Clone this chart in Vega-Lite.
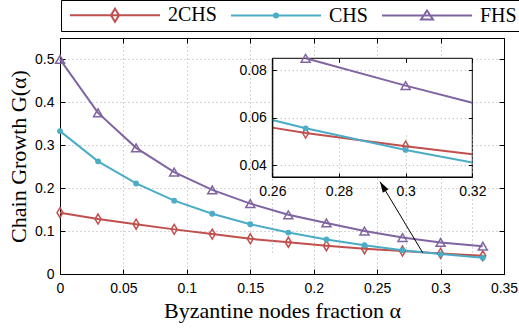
{
  "$schema": "https://vega.github.io/schema/vega-lite/v6.json",
  "width": 444,
  "height": 236,
  "autosize": {"type": "none"},
  "padding": {"left": 60, "top": 38, "right": 15, "bottom": 57},
  "background": "white",
  "config": {
    "view": {"stroke": null},
    "axis": {
      "domainColor": "#000", "tickColor": "#000", "labelColor": "#000",
      "labelFont": "Liberation Sans", "labelFontSize": 14,
      "titleFont": "Liberation Serif", "titleFontSize": 22, "titleFontWeight": "normal", "titleColor": "#000",
      "gridColor": "#aaaaaa", "gridDash": [1, 3], "gridWidth": 1,
      "labelFlush": false, "labelOverlap": false
    }
  },
  "datasets": {
    "main": [
      {"s": "2CHS", "a": 0, "g": 0.143}, {"s": "2CHS", "a": 0.03, "g": 0.128}, {"s": "2CHS", "a": 0.06, "g": 0.116},
      {"s": "2CHS", "a": 0.09, "g": 0.104}, {"s": "2CHS", "a": 0.12, "g": 0.093}, {"s": "2CHS", "a": 0.15, "g": 0.082},
      {"s": "2CHS", "a": 0.18, "g": 0.074}, {"s": "2CHS", "a": 0.21, "g": 0.066}, {"s": "2CHS", "a": 0.24, "g": 0.059},
      {"s": "2CHS", "a": 0.27, "g": 0.0535}, {"s": "2CHS", "a": 0.3, "g": 0.048}, {"s": "2CHS", "a": 0.3333, "g": 0.0423},
      {"s": "CHS", "a": 0, "g": 0.333}, {"s": "CHS", "a": 0.03, "g": 0.2625}, {"s": "CHS", "a": 0.06, "g": 0.211},
      {"s": "CHS", "a": 0.09, "g": 0.171}, {"s": "CHS", "a": 0.12, "g": 0.1405}, {"s": "CHS", "a": 0.15, "g": 0.116},
      {"s": "CHS", "a": 0.18, "g": 0.0965}, {"s": "CHS", "a": 0.21, "g": 0.0805}, {"s": "CHS", "a": 0.24, "g": 0.067},
      {"s": "CHS", "a": 0.27, "g": 0.0555}, {"s": "CHS", "a": 0.3, "g": 0.0464}, {"s": "CHS", "a": 0.3333, "g": 0.0378},
      {"s": "FHS", "a": 0, "g": 0.5}, {"s": "FHS", "a": 0.03, "g": 0.3755}, {"s": "FHS", "a": 0.06, "g": 0.294},
      {"s": "FHS", "a": 0.09, "g": 0.2375}, {"s": "FHS", "a": 0.12, "g": 0.196}, {"s": "FHS", "a": 0.15, "g": 0.164},
      {"s": "FHS", "a": 0.18, "g": 0.138}, {"s": "FHS", "a": 0.21, "g": 0.119}, {"s": "FHS", "a": 0.24, "g": 0.1},
      {"s": "FHS", "a": 0.27, "g": 0.085}, {"s": "FHS", "a": 0.3, "g": 0.0735}, {"s": "FHS", "a": 0.3333, "g": 0.0648}
    ],
    "inset": [
      {"s": "2CHS", "a": 0.26, "g": 0.0558}, {"s": "2CHS", "a": 0.27, "g": 0.0535}, {"s": "2CHS", "a": 0.3, "g": 0.048}, {"s": "2CHS", "a": 0.32, "g": 0.0446},
      {"s": "CHS", "a": 0.26, "g": 0.059}, {"s": "CHS", "a": 0.27, "g": 0.0555}, {"s": "CHS", "a": 0.3, "g": 0.0464}, {"s": "CHS", "a": 0.32, "g": 0.0411},
      {"s": "FHS", "a": 0.27, "g": 0.085}, {"s": "FHS", "a": 0.3, "g": 0.0735}, {"s": "FHS", "a": 0.32, "g": 0.0663}
    ]
  },
  "layer": [
    {
      "data": {"name": "main"},
      "encoding": {
        "x": {"field": "a", "type": "quantitative",
          "scale": {"domain": [0, 0.35], "nice": false, "zero": false},
          "axis": {"orient": "bottom", "values": [0, 0.05, 0.1, 0.15, 0.2, 0.25, 0.3, 0.35], "format": "~g",
            "title": "Byzantine nodes fraction α", "grid": true, "tickSize": -5, "labelPadding": 12, "titlePadding": 5}},
        "y": {"field": "g", "type": "quantitative",
          "scale": {"domain": [0, 0.55], "nice": false, "zero": false},
          "axis": {"orient": "left", "values": [0, 0.1, 0.2, 0.3, 0.4, 0.5], "format": "~g",
            "title": "Chain Growth G(α)", "grid": true, "tickSize": -5, "labelPadding": 11, "titlePadding": 4}}
      },
      "layer": [
        {"transform": [{"filter": "datum.s == '2CHS'"}], "mark": {"type": "line", "strokeWidth": 2, "color": "#C0504D"}},
        {"transform": [{"filter": "datum.s == 'CHS'"}], "mark": {"type": "line", "strokeWidth": 2, "color": "#4BACC6"}},
        {"transform": [{"filter": "datum.s == 'FHS'"}], "mark": {"type": "line", "strokeWidth": 2, "color": "#8064A2"}},
        {"transform": [{"filter": "datum.s == '2CHS'"}],
         "mark": {"type": "point", "shape": "M0,-1L0.6,0L0,1L-0.6,0Z", "size": 100, "filled": false, "color": "#C0504D", "strokeWidth": 1.5, "opacity": 1}},
        {"transform": [{"filter": "datum.s == 'CHS'"}],
         "mark": {"type": "point", "shape": "circle", "size": 34, "filled": true, "color": "#4BACC6", "opacity": 1}},
        {"transform": [{"filter": "datum.s == 'FHS'"}],
         "mark": {"type": "point", "shape": "triangle-up", "size": 81, "filled": false, "color": "#8064A2", "strokeWidth": 1.5, "opacity": 1}},
        {"transform": [{"filter": "false"}],
         "mark": {"type": "point", "filled": false, "size": 144, "strokeWidth": 2, "opacity": 1},
         "encoding": {
           "color": {"field": "s", "type": "nominal",
             "scale": {"domain": ["2CHS", "CHS", "FHS"], "range": ["#C0504D", "#4BACC6", "#8064A2"]},
             "legend": {"title": null, "orient": "none", "legendX": 1, "legendY": -38, "direction": "horizontal", "columns": 3,
               "symbolSize": 144, "symbolStrokeWidth": 2, "labelFont": "Liberation Serif", "labelFontSize": 20, "labelColor": "#000",
               "labelOffset": 82, "columnPadding": 10, "padding": 5, "strokeColor": "#000", "fillColor": "#fff", "labelLimit": 200, "symbolOpacity": 1}},
           "shape": {"field": "s", "type": "nominal",
             "scale": {"domain": ["2CHS", "CHS", "FHS"], "range": [
               "M-1,0H14M6.5,-1.083L7.167,0L6.5,1.083L5.833,0Z",
               "M-1,0H14M6.833,0A0.333,0.333,0,1,1,6.167,0A0.333,0.333,0,1,1,6.833,0Z",
               "M-1,0H14M6.5,-0.833L7.5,0.667L5.5,0.667Z"]},
             "legend": {"title": null, "orient": "none", "legendX": 1, "legendY": -38, "direction": "horizontal", "columns": 3,
               "symbolSize": 144, "symbolStrokeWidth": 2, "labelFont": "Liberation Serif", "labelFontSize": 20, "labelColor": "#000",
               "labelOffset": 82, "columnPadding": 10, "padding": 5, "strokeColor": "#000", "fillColor": "#fff", "labelLimit": 200, "symbolOpacity": 1}}
         }}
      ]
    },
    {
      "layer": [
        {"data": {"values": [{}]},
         "mark": {"type": "rect", "fill": "#fff", "stroke": "#000", "strokeWidth": 1},
         "encoding": {
           "x": {"datum": 0.26, "type": "quantitative", "scale": {"domain": [0.26, 0.32], "range": [212.3, 412.3], "nice": false, "zero": false},
             "axis": {"orient": "bottom", "offset": -97, "values": [0.26, 0.28, 0.3, 0.32], "format": "~g", "title": null, "grid": true, "tickSize": -4, "labelPadding": 11, "zindex": 1}},
           "x2": {"datum": 0.32},
           "y": {"datum": 0.035, "type": "quantitative", "scale": {"domain": [0.035, 0.085], "range": [139, 20.3], "nice": false, "zero": false},
             "axis": {"orient": "left", "offset": -212.3, "values": [0.04, 0.06, 0.08], "format": "~g", "title": null, "grid": true, "tickSize": -4, "labelPadding": 10, "zindex": 1}},
           "y2": {"datum": 0.085}
         }},
        {"data": {"name": "inset"}, "transform": [{"filter": "datum.s == '2CHS'"}],
         "mark": {"type": "line", "strokeWidth": 2, "color": "#C0504D"},
         "encoding": {"x": {"field": "a", "type": "quantitative"}, "y": {"field": "g", "type": "quantitative"}}},
        {"data": {"name": "inset"}, "transform": [{"filter": "datum.s == 'CHS'"}],
         "mark": {"type": "line", "strokeWidth": 2, "color": "#4BACC6"},
         "encoding": {"x": {"field": "a", "type": "quantitative"}, "y": {"field": "g", "type": "quantitative"}}},
        {"data": {"name": "inset"}, "transform": [{"filter": "datum.s == 'FHS'"}],
         "mark": {"type": "line", "strokeWidth": 2, "color": "#8064A2"},
         "encoding": {"x": {"field": "a", "type": "quantitative"}, "y": {"field": "g", "type": "quantitative"}}},
        {"data": {"name": "inset"},
         "transform": [{"filter": "datum.s == '2CHS' && datum.a > 0.265 && datum.a < 0.305"}],
         "mark": {"type": "point", "shape": "M0,-1L0.6,0L0,1L-0.6,0Z", "size": 100, "filled": false, "color": "#C0504D", "strokeWidth": 1.5, "opacity": 1},
         "encoding": {"x": {"field": "a", "type": "quantitative"}, "y": {"field": "g", "type": "quantitative"}}},
        {"data": {"name": "inset"},
         "transform": [{"filter": "datum.s == 'CHS' && datum.a > 0.265 && datum.a < 0.305"}],
         "mark": {"type": "point", "shape": "circle", "size": 34, "filled": true, "color": "#4BACC6", "opacity": 1},
         "encoding": {"x": {"field": "a", "type": "quantitative"}, "y": {"field": "g", "type": "quantitative"}}},
        {"data": {"name": "inset"},
         "transform": [{"filter": "datum.s == 'FHS' && datum.a > 0.265 && datum.a < 0.305"}],
         "mark": {"type": "point", "shape": "triangle-up", "size": 81, "filled": false, "color": "#8064A2", "strokeWidth": 1.5, "opacity": 1},
         "encoding": {"x": {"field": "a", "type": "quantitative"}, "y": {"field": "g", "type": "quantitative"}}}
      ]
    },
    {
      "data": {"values": [{}]},
      "mark": {"type": "point", "opacity": 0},
      "encoding": {
        "x": {"datum": 0.26, "type": "quantitative", "scale": {"domain": [0.26, 0.32], "range": [212.3, 412.3], "nice": false, "zero": false},
          "axis": {"orient": "top", "offset": -20.3, "values": [0.26, 0.28, 0.3, 0.32], "labels": false, "title": null, "grid": false, "tickSize": -4, "domain": false, "zindex": 1}},
        "y": {"datum": 0.035, "type": "quantitative", "scale": {"domain": [0.035, 0.085], "range": [139, 20.3], "nice": false, "zero": false},
          "axis": {"orient": "right", "offset": -31.7, "values": [0.04, 0.06, 0.08], "labels": false, "title": null, "grid": false, "tickSize": -4, "domain": false, "zindex": 1}}
      }
    },
    {
      "data": {"values": [{}]},
      "layer": [
        {"mark": {"type": "point", "opacity": 0},
         "encoding": {
           "x": {"datum": 0, "type": "quantitative", "scale": {"domain": [0, 0.35], "nice": false, "zero": false},
             "axis": {"orient": "top", "values": [0, 0.05, 0.1, 0.15, 0.2, 0.25, 0.3, 0.35], "labels": false, "title": null, "grid": false, "tickSize": -5}},
           "y": {"datum": 0, "type": "quantitative", "scale": {"domain": [0, 0.55], "nice": false, "zero": false},
             "axis": {"orient": "right", "values": [0, 0.1, 0.2, 0.3, 0.4, 0.5], "labels": false, "title": null, "grid": false, "tickSize": -5}}
         }},
        {"mark": {"type": "rule", "color": "#000", "strokeWidth": 1},
         "encoding": {"x": {"datum": 0.2859, "type": "quantitative"}, "y": {"datum": 0.0496, "type": "quantitative"},
           "x2": {"datum": 0.2523}, "y2": {"datum": 0.2151}}},
        {"mark": {"type": "point", "shape": "M0,0L0.55,1.8L-0.55,1.8Z", "size": 144, "filled": true, "color": "#000", "opacity": 1, "angle": -31},
         "encoding": {"x": {"datum": 0.2523, "type": "quantitative"}, "y": {"datum": 0.2151, "type": "quantitative"}}}
      ]
    }
  ],
  "resolve": {"scale": {"x": "independent", "y": "independent"}}
}
